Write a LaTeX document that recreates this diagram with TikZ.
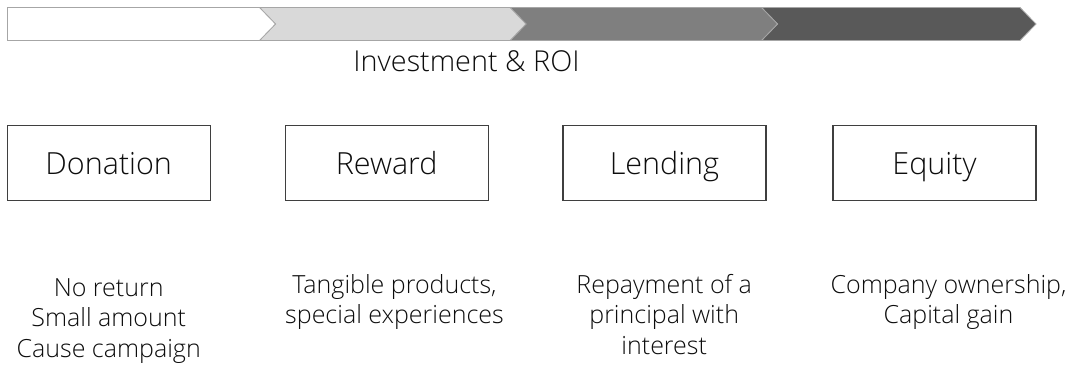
\documentclass[tikz,border=0pt]{standalone}
\usepackage{fontspec}
\setmainfont{Open Sans}
\IfFontExistsTF{Open Sans Light}{\newfontfamily\lblfont{Open Sans Light}}{\newfontfamily\lblfont{Open Sans}}
\definecolor{txt}{HTML}{0D0D0D}
\definecolor{segA}{HTML}{FFFFFF}
\definecolor{segB}{HTML}{D9D9D9}
\definecolor{segC}{HTML}{7F7F7F}
\definecolor{segD}{HTML}{595959}
\definecolor{segline}{HTML}{A6A6A6}
\definecolor{boxline}{HTML}{3F3F3F}
\begin{document}
\begin{tikzpicture}[x=1pt,y=-1pt,
  chev/.style={draw=segline,line width=0.8pt,line join=miter},
  catbox/.style={draw=boxline,line width=1.2pt,minimum width=203pt,minimum height=75pt,inner sep=0pt,
     text height=21.8pt,text depth=0pt,font=\lblfont\fontsize{30.5}{33}\selectfont,text=txt},
  desc/.style={align=center,anchor=north,inner sep=0pt,font=\lblfont\fontsize{25}{30.5}\selectfont,text=txt},
  titletext/.style={font=\lblfont\fontsize{28.8}{31}\selectfont,text=txt,inner sep=0pt,anchor=base}]
\useasboundingbox (0,0) rectangle (1068,366);
% chevron bar
\path[chev,fill=segD] (761.5,7.5)--(1020,7.5)--(1036,24)--(1020,40.5)--(761.5,40.5)--(777.5,24)--cycle;
\path[chev,fill=segC] (510,7.5)--(761.5,7.5)--(777.5,24)--(761.5,40.5)--(510,40.5)--(526,24)--cycle;
\path[chev,fill=segB] (259.5,7.5)--(510,7.5)--(526,24)--(510,40.5)--(259.5,40.5)--(275.5,24)--cycle;
\path[chev,fill=segA] (7.5,7.5)--(259.5,7.5)--(275.5,24)--(259.5,40.5)--(7.5,40.5)--cycle;
\node[titletext] (title) at (466.5,72) {Investment \& ROI};
% boxes
\node[catbox] (don) at (108.7,163.3) {Donation};
\node[catbox] (rew) at (386.7,163.3) {Reward};
\node[catbox] (len) at (664.5,163.3) {Lending};
\node[catbox] (equ) at (934.5,163.3) {Equity};
% descriptions
\node[desc] (ddon) at (108.7,274.6) {\strut No return\\Small amount\\Cause campaign};
\node[desc] (drew) at (394.5,271.9) {\strut Tangible products,\\special experiences};
\node[desc] (dlen) at (664.2,271.9) {\strut Repayment of a\\principal with\\interest};
\node[desc] (dequ) at (948.5,271.9) {\strut Company ownership,\\Capital gain};
\end{tikzpicture}
\end{document}
